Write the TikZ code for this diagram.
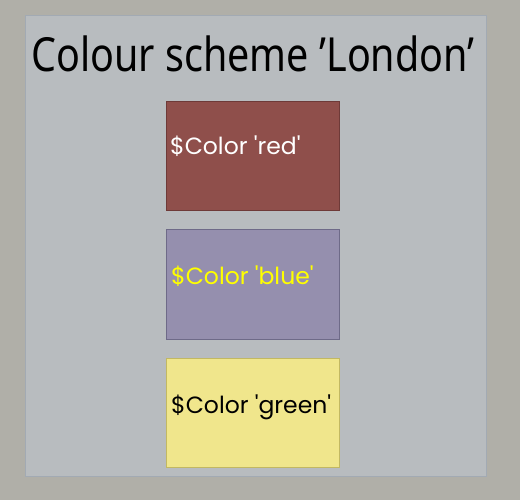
\documentclass[tikz,border=0pt]{standalone}
\usepackage{fontspec}
\newfontfamily\titlefont[FakeStretch=0.84]{Noto Sans}
\newfontfamily\boxfont[Ligatures=TeXOff]{Poppins}
\usetikzlibrary{positioning}
\definecolor{outerbg}{HTML}{B0AFA8}
\definecolor{panelbg}{HTML}{B8BCBF}
\definecolor{panelline}{HTML}{A2AAB3}
\definecolor{londonred}{HTML}{8F4F4B}
\definecolor{londonredline}{HTML}{6E3A38}
\definecolor{londonblue}{HTML}{958FAE}
\definecolor{londonblueline}{HTML}{6E6A88}
\definecolor{londongreen}{HTML}{F0E68C}
\definecolor{londongreenline}{HTML}{C2B862}
\definecolor{textyellow}{HTML}{FFFF00}

\begin{document}
\begin{tikzpicture}[x=1pt,y=-1pt,
  swatch/.style={line width=1pt,minimum width=173pt,minimum height=109pt,inner sep=0pt,anchor=north west},
  swatchtext/.style={anchor=base west,inner sep=0pt,font=\boxfont\fontsize{23.5}{26}\selectfont}]
\fill[outerbg] (0,0) rectangle (520,500);
\draw[panelline,fill=panelbg,line width=1pt] (25.5,15.5) rectangle (486.5,476.5);
\node[anchor=base,inner sep=0pt,font=\titlefont\fontsize{47}{50}\selectfont] (title) at (253,72) {Colour scheme ’London’};
%
\node[swatch,draw=londonredline,fill=londonred] (red) at (166,101) {};
\node[swatchtext,text=white] (redlabel) at (170,155) {\$Color 'red'};
%
\node[swatch,draw=londonblueline,fill=londonblue] (blue) at (166,229.5) {};
\node[swatchtext,text=textyellow] (bluelabel) at (171,284) {\$Color 'blue'};
%
\node[swatch,draw=londongreenline,fill=londongreen] (green) at (166,358) {};
\node[swatchtext,text=black] (greenlabel) at (171,413) {\$Color 'green'};
\end{tikzpicture}
\end{document}
